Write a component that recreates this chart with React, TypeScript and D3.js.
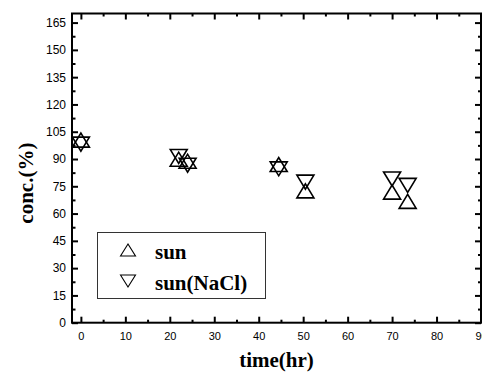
import React, { useEffect, useRef } from "react";
import * as d3 from "d3";

const timeHr = [0, 22, 24, 44.5, 50.5, 70, 73.5];
const sunConc = [100.4, 89.9, 88.8, 87.0, 72.5, 71.8, 66.7];
const sunNaClConc = [98.2, 91.4, 86.6, 84.6, 77.3, 79.0, 75.5];

const seriesNames = ["sun", "sun(NaCl)"];

const xTickLabels = [0, 10, 20, 30, 40, 50, 60, 70, 80, 90];
const xMinorTicks = [5, 15, 25, 35, 45, 55, 65, 75, 85];
const yTickLabels = [0, 15, 30, 45, 60, 75, 90, 105, 120, 135, 150, 165];
const yMinorTicks = [7.5, 22.5, 37.5, 52.5, 67.5, 82.5, 97.5, 112.5, 127.5, 142.5, 157.5];

const W = 482;
const H = 374;
const margin = { top: 13.5, right: 1, bottom: 51.3, left: 72 };

const sansFont = "'Liberation Sans', Arial, sans-serif";
const serifFont = "'Liberation Serif', 'Times New Roman', serif";

// triangle marker, pointing up (dir = 1) or down (dir = -1)
const triangle = (w: number, h: number, dir: number) =>
  (d3.line()([
    [-w / 2, (dir * h) / 2],
    [0, (-dir * h) / 2],
    [w / 2, (dir * h) / 2],
  ]) as string) + "Z";

const App: React.FC = () => {
  const svgRef = useRef<SVGSVGElement>(null);

  useEffect(() => {
    document.body.style.margin = "0";
    if (svgRef.current === null) return;

    const svg = d3.select(svgRef.current);
    svg.selectAll("*").remove();

    const x = d3
      .scaleLinear()
      .domain([-2, 90])
      .range([margin.left, W - margin.right]);
    const y = d3
      .scaleLinear()
      .domain([0, 170])
      .range([H - margin.bottom, margin.top]);

    const x0 = x(-2);
    const x1 = x(90);
    const y0 = y(0);
    const y1 = y(170);

    // axes: ticks point inward
    const styleAxis = (g: d3.Selection<SVGGElement, unknown, null, undefined>) => {
      g.select(".domain").remove();
      g.selectAll(".tick line").attr("stroke", "#000").attr("stroke-width", 2);
      g.selectAll("text")
        .attr("fill", "#000")
        .style("font-family", sansFont);
    };

    const bottom = svg.append("g").attr("transform", `translate(0, ${y0})`);
    bottom.call(
      d3
        .axisBottom(x)
        .tickValues(xTickLabels)
        .tickSizeInner(-6)
        .tickSizeOuter(0)
        .tickPadding(9.5)
        .tickFormat(d3.format("d"))
    );
    styleAxis(bottom);
    bottom.selectAll("text").style("font-size", "11px");

    const bottomMinor = svg.append("g").attr("transform", `translate(0, ${y0})`);
    bottomMinor.call(
      d3.axisBottom(x).tickValues(xMinorTicks).tickSizeInner(-3).tickSizeOuter(0).tickFormat(() => "")
    );
    styleAxis(bottomMinor);

    const top = svg.append("g").attr("transform", `translate(0, ${y1})`);
    top.call(
      d3.axisTop(x).tickValues(xTickLabels).tickSizeInner(-6).tickSizeOuter(0).tickFormat(() => "")
    );
    styleAxis(top);
    const topMinor = svg.append("g").attr("transform", `translate(0, ${y1})`);
    topMinor.call(
      d3.axisTop(x).tickValues(xMinorTicks).tickSizeInner(-3).tickSizeOuter(0).tickFormat(() => "")
    );
    styleAxis(topMinor);

    const left = svg.append("g").attr("transform", `translate(${x0}, 0)`);
    left.call(
      d3
        .axisLeft(y)
        .tickValues(yTickLabels)
        .tickSizeInner(-6)
        .tickSizeOuter(0)
        .tickPadding(6)
        .tickFormat(d3.format("d"))
    );
    styleAxis(left);
    left.selectAll("text").style("font-size", "12px");

    const leftMinor = svg.append("g").attr("transform", `translate(${x0}, 0)`);
    leftMinor.call(
      d3.axisLeft(y).tickValues(yMinorTicks).tickSizeInner(-3.5).tickSizeOuter(0).tickFormat(() => "")
    );
    styleAxis(leftMinor);

    const right = svg.append("g").attr("transform", `translate(${x1}, 0)`);
    right.call(
      d3.axisRight(y).tickValues(yTickLabels).tickSizeInner(-6).tickSizeOuter(0).tickFormat(() => "")
    );
    styleAxis(right);
    const rightMinor = svg.append("g").attr("transform", `translate(${x1}, 0)`);
    rightMinor.call(
      d3.axisRight(y).tickValues(yMinorTicks).tickSizeInner(-3).tickSizeOuter(0).tickFormat(() => "")
    );
    styleAxis(rightMinor);

    // frame
    svg
      .append("rect")
      .attr("x", x0)
      .attr("y", y1)
      .attr("width", x1 - x0)
      .attr("height", y0 - y1)
      .attr("fill", "none")
      .attr("stroke", "#000")
      .attr("stroke-width", 2);

    // points
    const series = [
      { name: seriesNames[0], values: sunConc, dir: 1 },
      { name: seriesNames[1], values: sunNaClConc, dir: -1 },
    ];

    const points = svg.append("g");
    series.forEach(s => {
      points
        .append("g")
        .selectAll("path")
        .data(timeHr.map((t, i) => ({ t, v: s.values[i] })))
        .enter()
        .append("path")
        .attr("d", triangle(17, 14, s.dir))
        .attr("transform", d => `translate(${x(d.t)}, ${y(d.v)})`)
        .attr("fill", "none")
        .attr("stroke", "#000")
        .attr("stroke-width", 1.6)
        .attr("stroke-linejoin", "miter");
    });

    // legend
    const legend = svg.append("g");
    legend
      .append("rect")
      .attr("x", 97.5)
      .attr("y", 232.5)
      .attr("width", 168)
      .attr("height", 66)
      .attr("fill", "#fff")
      .attr("stroke", "#333")
      .attr("stroke-width", 1);

    series.forEach((s, i) => {
      const row = legend.append("g").attr("transform", `translate(0, ${i * 31})`);
      row
        .append("path")
        .attr("d", triangle(15, 12, s.dir))
        .attr("transform", `translate(128, 250)`)
        .attr("fill", "none")
        .attr("stroke", "#000")
        .attr("stroke-width", 1.1);
      row
        .append("text")
        .attr("x", 155)
        .attr("y", 258.5)
        .style("font-family", serifFont)
        .style("font-weight", "bold")
        .style("font-size", "21px")
        .text(s.name);
    });

    // axis titles
    svg
      .append("text")
      .attr("x", (x0 + x1) / 2)
      .attr("y", 367)
      .attr("text-anchor", "middle")
      .style("font-family", serifFont)
      .style("font-weight", "bold")
      .style("font-size", "21px")
      .text("time(hr)");

    svg
      .append("text")
      .attr("transform", `translate(33, ${(y0 + y1) / 2 + 15}) rotate(-90)`)
      .attr("text-anchor", "middle")
      .style("font-family", serifFont)
      .style("font-weight", "bold")
      .style("font-size", "21px")
      .text("conc.(%)");
  }, []);

  return <svg ref={svgRef} width={W} height={H} style={{ display: "block", background: "#fff" }} />;
};

export default App;
